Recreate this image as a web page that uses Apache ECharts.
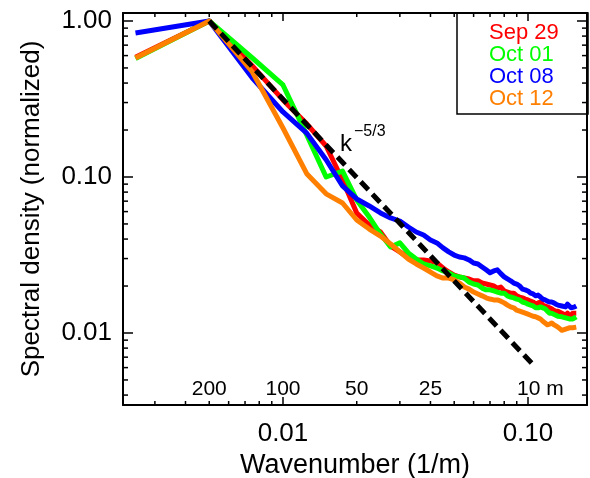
<!DOCTYPE html>
<html>
<head>
<meta charset="utf-8">
<script src="https://cdn.jsdelivr.net/npm/echarts@6/dist/echarts.min.js"></script>
<style>html,body{margin:0;padding:0;background:#fff;}#chart{width:590px;height:478px;}</style>
</head>
<body>
<div id="chart"></div>
<script>
// ---- data ----
const wavenumber = [0.0025,0.005,0.0075,0.01,0.0125,0.015,0.0175,0.02,0.0225,0.025,0.0275,0.03,0.0325,0.035,0.0375,0.04,0.0425,0.045,0.0475,0.05,0.0525,0.055,0.0575,0.06,0.0625,0.065,0.0675,0.07,0.0725,0.075,0.0775,0.08,0.0825,0.085,0.0875,0.09,0.0925,0.095,0.0975,0.1,0.1025,0.105,0.1075,0.11,0.1125,0.115,0.1175,0.12,0.1225,0.125,0.1275,0.13,0.1325,0.135,0.1375,0.14,0.1425,0.145,0.1475,0.15,0.1525,0.155,0.1575];
const sep29 = [0.585,1.0,0.515,0.312,0.219,0.158,0.0957,0.0588,0.0492,0.0444,0.0361,0.0331,0.0303,0.0294,0.0294,0.0290,0.0281,0.0261,0.0246,0.0235,0.0229,0.0225,0.0222,0.0216,0.0216,0.0209,0.0206,0.0203,0.0200,0.0194,0.0197,0.0186,0.0183,0.0180,0.0180,0.0173,0.0170,0.0168,0.0165,0.0163,0.0160,0.0158,0.0153,0.0156,0.0158,0.0151,0.0149,0.0147,0.0145,0.0143,0.0140,0.0138,0.0138,0.0136,0.0134,0.0132,0.0130,0.0134,0.0128,0.0130,0.0134,0.0136,0.0134];
const oct01 = [0.575,1.0,0.579,0.389,0.186,0.100,0.109,0.0713,0.0554,0.0431,0.0356,0.0378,0.0326,0.0298,0.0277,0.0269,0.0261,0.0250,0.0243,0.0232,0.0229,0.0225,0.0212,0.0206,0.0203,0.0194,0.0189,0.0189,0.0186,0.0183,0.0180,0.0180,0.0173,0.0170,0.0168,0.0165,0.0163,0.0158,0.0156,0.0153,0.0151,0.0149,0.0145,0.0145,0.0147,0.0145,0.0143,0.0138,0.0134,0.0134,0.0132,0.0130,0.0128,0.0130,0.0127,0.0127,0.0125,0.0128,0.0123,0.0125,0.0123,0.0125,0.0127];
const oct08 = [0.838,1.0,0.431,0.261,0.191,0.129,0.0876,0.0723,0.0652,0.0588,0.0546,0.0522,0.0478,0.0444,0.0425,0.0395,0.0378,0.0351,0.0331,0.0316,0.0307,0.0303,0.0294,0.0281,0.0277,0.0265,0.0254,0.0243,0.0250,0.0254,0.0240,0.0229,0.0222,0.0216,0.0209,0.0206,0.0200,0.0191,0.0189,0.0186,0.0180,0.0178,0.0173,0.0175,0.0170,0.0165,0.0163,0.0160,0.0158,0.0158,0.0156,0.0153,0.0151,0.0151,0.0149,0.0151,0.0147,0.0153,0.0149,0.0145,0.0149,0.0147,0.0149];
const oct12 = [0.579,1.0,0.471,0.206,0.105,0.078,0.0681,0.0530,0.0464,0.0418,0.0372,0.0331,0.0298,0.0277,0.0261,0.0246,0.0232,0.0225,0.0225,0.0219,0.0209,0.0197,0.0191,0.0183,0.0178,0.0173,0.0168,0.0165,0.0163,0.0163,0.0160,0.0156,0.0151,0.0147,0.0145,0.0140,0.0138,0.0136,0.0134,0.0132,0.0130,0.0128,0.0127,0.0125,0.0123,0.0119,0.0116,0.0113,0.0114,0.0116,0.0113,0.0111,0.0109,0.0108,0.0104,0.0104,0.0106,0.0108,0.0108,0.0106,0.0108,0.0109,0.0109];
const refK = [0.005, 0.105];
const refS = [1.0, 0.00626];
const seriesNames = ['Sep 29','Oct 01','Oct 08','Oct 12'];
const wavelengths = [200, 100, 50, 25, 10];
const wavelengthLabels = ['200','100','50','25','10 m'];

// ---- layout / style ----
const FONT = '"Liberation Sans", Arial, Helvetica, sans-serif';
const COLORS = ['#ff0000','#00ff00','#0000ff','#ff7f00'];
const XMIN = 0.002223, XMAX = 0.1742, YMIN = 0.003455, YMAX = 1.125;

function isDecade(v){ const l = Math.log10(v); return Math.abs(l - Math.round(l)) < 1e-6; }
function minorValues(lo, hi){
  const out = [];
  for (let e = -4; e <= 1; e++) {
    for (let m = 2; m <= 9; m++) {
      const v = m * Math.pow(10, e);
      if (v > lo && v < hi) out.push(v);
    }
  }
  return out;
}
const xMinor = minorValues(XMIN, XMAX);
const yMinor = minorValues(YMIN, YMAX);

const pairs = (ys) => wavenumber.map((k, i) => [k, ys[i]]);
const allSeries = [sep29, oct01, oct08, oct12];

const chart = echarts.init(document.getElementById('chart'), null, {renderer: 'canvas'});

const axisLine = {show: true, onZero: false, lineStyle: {color: '#000', width: 2}};
const option = {
  animation: false,
  backgroundColor: '#fff',
  textStyle: {fontFamily: FONT},
  grid: {left: 123, right: 3, top: 13, bottom: 73, containLabel: false, outerBoundsMode: 'none'},
  legend: {
    orient: 'vertical', left: 484, top: 22, padding: 0,
    icon: 'none', itemWidth: 0, itemHeight: 10, itemGap: 0,
    selectedMode: false,
    textStyle: {fontSize: 22, fontFamily: FONT, lineHeight: 21.5},
    data: seriesNames.map((n, i) => ({name: n, textStyle: {color: COLORS[i]}}))
  },
  xAxis: [
    {
      type: 'log', logBase: 10, min: XMIN, max: XMAX, position: 'bottom',
      axisLine: axisLine,
      axisTick: {show: true, inside: true, length: 8, lineStyle: {color: '#000', width: 1.5}},
      axisLabel: {show: true, margin: 16, fontSize: 26, color: '#000', fontFamily: FONT,
        showMinLabel: false, showMaxLabel: false,
        formatter: v => isDecade(v) ? v.toFixed(2) : ''},
      splitLine: {show: false}, minorTick: {show: false},
      name: 'Wavenumber (1/m)', nameLocation: 'middle', nameGap: 47,
      nameTextStyle: {fontSize: 27, color: '#000', fontFamily: FONT}
    },
    {
      type: 'log', logBase: 10, min: XMIN, max: XMAX, position: 'top',
      axisLine: axisLine,
      axisTick: {show: true, inside: true, length: 8, lineStyle: {color: '#000', width: 1.5}},
      axisLabel: {show: false}, splitLine: {show: false}
    }
  ],
  yAxis: [
    {
      type: 'log', logBase: 10, min: YMIN, max: YMAX, position: 'left',
      axisLine: axisLine,
      axisTick: {show: true, inside: true, length: 10, lineStyle: {color: '#000', width: 1.5}},
      axisLabel: {show: true, margin: 11, fontSize: 26, color: '#000', fontFamily: FONT,
        showMinLabel: false, showMaxLabel: false,
        formatter: v => isDecade(v) ? v.toFixed(2) : ''},
      splitLine: {show: false}, minorTick: {show: false},
      name: 'Spectral density (normalized)', nameLocation: 'middle', nameGap: 78, nameRotate: 90,
      nameTextStyle: {fontSize: 26, color: '#000', fontFamily: FONT}
    },
    {
      type: 'log', logBase: 10, min: YMIN, max: YMAX, position: 'right',
      axisLine: axisLine,
      axisTick: {show: true, inside: true, length: 10, lineStyle: {color: '#000', width: 1.5}},
      axisLabel: {show: false}, splitLine: {show: false}
    }
  ],
  series: [
    ...allSeries.map((ys, i) => ({
      name: seriesNames[i], type: 'line', data: pairs(ys),
      xAxisIndex: 0, yAxisIndex: 0,
      showSymbol: false, symbol: 'none', silent: true, z: 3 + i,
      lineStyle: {color: COLORS[i], width: 5, join: 'round'},
      itemStyle: {color: COLORS[i]}
    })),
    {
      name: 'k-5/3', type: 'line', data: refK.map((k, i) => [k, refS[i]]),
      xAxisIndex: 0, yAxisIndex: 0, showSymbol: false, symbol: 'none', silent: true, z: 10,
      lineStyle: {color: '#000', width: 5, type: [11, 6], cap: 'butt'}
    },
    {
      name: 'wavelength', type: 'scatter', xAxisIndex: 0, yAxisIndex: 0, clip: false,
      symbolSize: 0, silent: true, z: 11,
      itemStyle: {color: '#000', opacity: 1},
      data: wavelengths.map((w, i) => ({
        value: [1 / w, YMIN],
        label: i === wavelengths.length - 1 ? {align: 'left', offset: [-11, -16]} : {}
      })),
      label: {show: true, position: 'inside', offset: [0, -16], fontSize: 21, color: '#000',
        opacity: 1, textBorderWidth: 0, textBorderColor: 'transparent',
        fontFamily: FONT, formatter: p => wavelengthLabels[p.dataIndex]}
    },
    {
      name: 'minorTicks', type: 'custom', xAxisIndex: 0, yAxisIndex: 0, clip: false, silent: true, z: 12,
      data: [[0.01, 0.1]],
      renderItem: function (params, api) {
        const cs = params.coordSys;
        const left = cs.x, right = cs.x + cs.width, top = cs.y, bottom = cs.y + cs.height;
        const st = {stroke: '#000', lineWidth: 1.5};
        const ch = [];
        xMinor.forEach(v => {
          const px = api.coord([v, 0.1])[0];
          ch.push({type: 'line', shape: {x1: px, y1: bottom, x2: px, y2: bottom - 4}, style: st});
          ch.push({type: 'line', shape: {x1: px, y1: top, x2: px, y2: top + 4}, style: st});
        });
        yMinor.forEach(v => {
          const py = api.coord([0.01, v])[1];
          ch.push({type: 'line', shape: {x1: left, y1: py, x2: left + 5, y2: py}, style: st});
          ch.push({type: 'line', shape: {x1: right, y1: py, x2: right - 5, y2: py}, style: st});
        });
        return {type: 'group', children: ch};
      }
    }
  ],
  graphic: [
    {type: 'rect', z: 20, shape: {x: 457, y: 13, width: 131, height: 101},
      style: {fill: 'none', stroke: '#000', lineWidth: 1.5}},
    {type: 'text', z: 20, x: 340, y: 144,
      style: {text: 'k', font: '24px ' + FONT, fill: '#000', verticalAlign: 'middle', align: 'left'}},
    {type: 'text', z: 20, x: 354, y: 132,
      style: {text: '\u22125/3', font: '16px ' + FONT, fill: '#000', verticalAlign: 'middle', align: 'left'}}
  ]
};
chart.setOption(option);
</script>
</body>
</html>
